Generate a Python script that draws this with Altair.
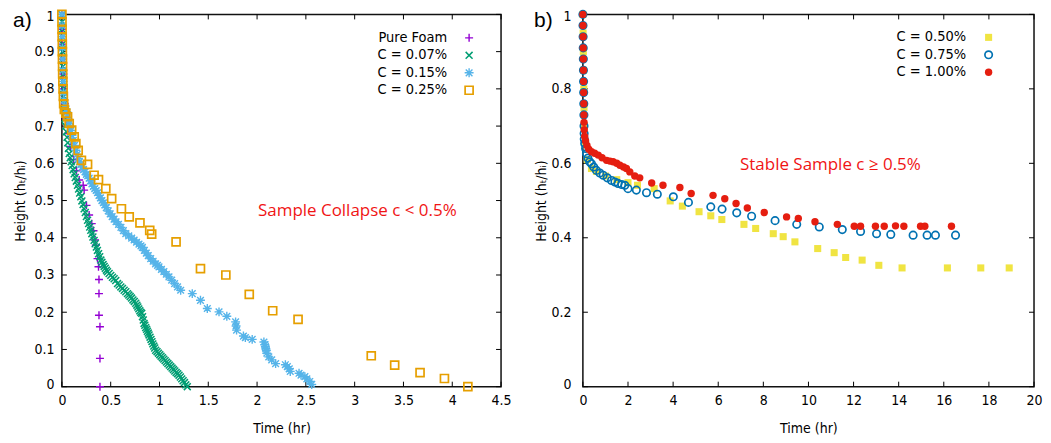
import altair as alt
import pandas as pd

# ---------------- Panel a) data: (time hr, height ratio) ----------------
pure_foam = [(0, 1), (0.003, 0.96), (0.006, 0.92), (0.01, 0.88), (0.015, 0.84), (0.02, 0.8),
             (0.03, 0.76), (0.045, 0.72), (0.065, 0.68), (0.09, 0.645), (0.12, 0.61), (0.15, 0.58),
             (0.177, 0.555), (0.218, 0.541), (0.228, 0.528), (0.252, 0.487), (0.279, 0.461),
             (0.306, 0.438), (0.324, 0.419), (0.34, 0.394), (0.348, 0.38), (0.365, 0.344),
             (0.375, 0.322), (0.38, 0.288), (0.38, 0.25), (0.38, 0.192), (0.39, 0.161),
             (0.39, 0.076), (0.39, 0.0)]

c007_t = [0, 0.002, 0.003, 0.004, 0.005, 0.006, 0.008, 0.01, 0.012, 0.014,
          0.017, 0.02, 0.024, 0.028, 0.033, 0.039, 0.046, 0.053, 0.06, 0.067,
          0.075, 0.085, 0.095, 0.105, 0.115, 0.126, 0.137, 0.148, 0.16, 0.171,
          0.182, 0.194, 0.205, 0.217, 0.228, 0.24, 0.251, 0.263, 0.274, 0.285,
          0.296, 0.307, 0.318, 0.33, 0.341, 0.353, 0.364, 0.376, 0.387, 0.399,
          0.41, 0.422, 0.433, 0.445, 0.456, 0.467, 0.484, 0.501, 0.518, 0.535,
          0.552, 0.57, 0.587, 0.604, 0.621, 0.638, 0.655, 0.672, 0.686, 0.7,
          0.714, 0.728, 0.742, 0.757, 0.768, 0.778, 0.788, 0.798, 0.808, 0.818,
          0.826, 0.834, 0.842, 0.85, 0.859, 0.868, 0.876, 0.885, 0.893, 0.903,
          0.913, 0.923, 0.932, 0.942, 0.951, 0.961, 0.975, 0.989, 1.003, 1.016,
          1.03, 1.044, 1.058, 1.072, 1.086, 1.1, 1.115, 1.129, 1.143, 1.157,
          1.171, 1.186, 1.2, 1.214, 1.228, 1.242, 1.256, 1.27, 1.285]
c007_h = [1, 0.98, 0.96, 0.94, 0.92, 0.9, 0.88, 0.86, 0.84, 0.82,
          0.8, 0.78, 0.76, 0.74, 0.72, 0.7, 0.685, 0.67, 0.655, 0.64,
          0.626, 0.615, 0.604, 0.594, 0.583, 0.572, 0.562, 0.552, 0.541, 0.531,
          0.52, 0.51, 0.499, 0.489, 0.478, 0.468, 0.457, 0.447, 0.438, 0.429,
          0.42, 0.411, 0.402, 0.393, 0.384, 0.375, 0.366, 0.357, 0.349, 0.34,
          0.334, 0.328, 0.323, 0.318, 0.313, 0.309, 0.304, 0.299, 0.294, 0.29,
          0.285, 0.277, 0.273, 0.268, 0.264, 0.259, 0.255, 0.25, 0.246, 0.242,
          0.238, 0.233, 0.229, 0.224, 0.219, 0.214, 0.209, 0.204, 0.2, 0.197,
          0.188, 0.179, 0.17, 0.165, 0.159, 0.154, 0.149, 0.144, 0.139, 0.133,
          0.127, 0.121, 0.115, 0.109, 0.104, 0.098, 0.094, 0.09, 0.086, 0.082,
          0.078, 0.074, 0.07, 0.066, 0.062, 0.058, 0.054, 0.05, 0.046, 0.042,
          0.038, 0.035, 0.031, 0.026, 0.021, 0.016, 0.011, 0.005, 0.0]

c015 = [(0, 1), (0.002, 0.97), (0.004, 0.94), (0.006, 0.91), (0.008, 0.88), (0.01, 0.85),
        (0.013, 0.82), (0.017, 0.79), (0.022, 0.77), (0.03, 0.755), (0.04, 0.745), (0.05, 0.738),
        (0.058, 0.73), (0.067, 0.718), (0.075, 0.707), (0.084, 0.697), (0.092, 0.688),
        (0.104, 0.675), (0.117, 0.662), (0.13, 0.648), (0.143, 0.635), (0.156, 0.624),
        (0.168, 0.613), (0.18, 0.604), (0.194, 0.597), (0.207, 0.59), (0.222, 0.583),
        (0.237, 0.577), (0.251, 0.57), (0.265, 0.566), (0.279, 0.56), (0.293, 0.553),
        (0.308, 0.545), (0.322, 0.538), (0.337, 0.532), (0.351, 0.527), (0.365, 0.521),
        (0.38, 0.514), (0.395, 0.507), (0.41, 0.5), (0.425, 0.494), (0.44, 0.488),
        (0.455, 0.481), (0.475, 0.472), (0.495, 0.464), (0.515, 0.457), (0.535, 0.45),
        (0.555, 0.443), (0.58, 0.436), (0.605, 0.428), (0.63, 0.419), (0.655, 0.411),
        (0.685, 0.405), (0.715, 0.399), (0.74, 0.394), (0.765, 0.388), (0.79, 0.383),
        (0.81, 0.378), (0.825, 0.374), (0.845, 0.366), (0.865, 0.359), (0.885, 0.352),
        (0.91, 0.344), (0.935, 0.337), (0.96, 0.33), (0.98, 0.326), (0.995, 0.322),
        (1.02, 0.315), (1.045, 0.309), (1.07, 0.302), (1.097, 0.295), (1.125, 0.286),
        (1.155, 0.277), (1.185, 0.268), (1.217, 0.259), (1.336, 0.25), (1.42, 0.232),
        (1.49, 0.21), (1.61, 0.201), (1.69, 0.189), (1.78, 0.174), (1.785, 0.163),
        (1.79, 0.152), (1.86, 0.136), (1.88, 0.132), (1.95, 0.127), (2.07, 0.12),
        (2.08, 0.113), (2.085, 0.108), (2.09, 0.102), (2.095, 0.097), (2.1, 0.09),
        (2.12, 0.08), (2.15, 0.072), (2.19, 0.062), (2.29, 0.059), (2.31, 0.054),
        (2.33, 0.048), (2.34, 0.041), (2.43, 0.036), (2.45, 0.031), (2.49, 0.027),
        (2.51, 0.021), (2.54, 0.014), (2.56, 0.006)]

c025 = [(0, 1), (0.001, 0.98), (0.002, 0.96), (0.003, 0.94), (0.004, 0.92), (0.005, 0.9),
        (0.006, 0.88), (0.007, 0.86), (0.008, 0.84), (0.01, 0.82), (0.012, 0.8), (0.015, 0.78),
        (0.018, 0.76), (0.025, 0.745), (0.04, 0.735), (0.058, 0.725), (0.075, 0.707),
        (0.1, 0.689), (0.126, 0.671), (0.143, 0.653), (0.167, 0.635), (0.2, 0.608),
        (0.263, 0.597), (0.33, 0.568), (0.375, 0.556), (0.45, 0.532), (0.51, 0.505),
        (0.61, 0.478), (0.69, 0.456), (0.8, 0.44), (0.9, 0.42), (0.92, 0.41), (1.17, 0.389),
        (1.42, 0.317), (1.68, 0.3), (1.92, 0.248), (2.16, 0.204), (2.42, 0.181),
        (3.17, 0.083), (3.41, 0.058), (3.67, 0.038), (3.92, 0.022), (4.16, 0.0)]

# ---------------- Panel b) data ----------------
c050 = [(0, 1), (0.01, 0.95), (0.02, 0.9), (0.03, 0.85), (0.04, 0.8), (0.05, 0.75), (0.07, 0.7),
        (0.1, 0.65), (0.2, 0.61), (0.38, 0.586), (0.6, 0.578), (1.0, 0.566), (1.5, 0.556),
        (2.0, 0.548), (2.42, 0.541), (3.16, 0.532), (3.87, 0.499), (4.41, 0.485), (5.15, 0.47),
        (5.67, 0.459), (6.16, 0.449), (7.14, 0.436), (7.66, 0.425), (8.44, 0.411), (8.88, 0.403),
        (9.4, 0.389), (10.41, 0.371), (11.14, 0.36), (11.65, 0.347), (12.38, 0.34),
        (13.12, 0.326), (14.15, 0.319), (16.16, 0.319), (17.64, 0.319), (18.9, 0.319)]

c075 = [(0, 1), (0.005, 0.97), (0.01, 0.94), (0.015, 0.91), (0.02, 0.88), (0.025, 0.85),
        (0.03, 0.82), (0.035, 0.79), (0.04, 0.76), (0.045, 0.73), (0.05, 0.7), (0.055, 0.68),
        (0.06, 0.665), (0.08, 0.653), (0.12, 0.64), (0.16, 0.626), (0.22, 0.614), (0.3, 0.604),
        (0.38, 0.599), (0.48, 0.59), (0.6, 0.581), (0.75, 0.574), (0.9, 0.568), (1.08, 0.561),
        (1.27, 0.554), (1.42, 0.55), (1.56, 0.546), (1.72, 0.543), (1.86, 0.541), (2.0, 0.532),
        (2.37, 0.528), (2.82, 0.521), (3.3, 0.517), (4.01, 0.51), (4.68, 0.495), (5.67, 0.483),
        (6.17, 0.477), (6.82, 0.467), (7.48, 0.458), (8.52, 0.446), (9.48, 0.436),
        (10.48, 0.429), (11.5, 0.422), (12.31, 0.417), (13.02, 0.411), (13.65, 0.409),
        (14.64, 0.407), (15.26, 0.407), (15.63, 0.407), (16.52, 0.407)]

c100 = [(0, 1), (0.005, 0.97), (0.01, 0.94), (0.015, 0.91), (0.02, 0.88), (0.025, 0.85),
        (0.03, 0.82), (0.035, 0.79), (0.04, 0.76), (0.045, 0.73), (0.05, 0.71), (0.06, 0.69),
        (0.08, 0.672), (0.12, 0.66), (0.18, 0.648), (0.26, 0.638), (0.38, 0.631), (0.52, 0.627),
        (0.68, 0.622), (0.85, 0.615), (1.05, 0.608), (1.2, 0.606), (1.34, 0.604), (1.5, 0.6),
        (1.64, 0.595), (1.8, 0.59), (1.93, 0.586), (2.08, 0.577), (2.3, 0.566), (2.52, 0.561),
        (3.05, 0.547), (3.55, 0.541), (4.3, 0.535), (4.8, 0.519), (5.77, 0.514), (6.29, 0.505),
        (6.79, 0.492), (7.29, 0.48), (8.04, 0.468), (9.03, 0.456), (9.55, 0.452),
        (10.29, 0.443), (11.28, 0.436), (12.03, 0.431), (12.31, 0.431), (12.97, 0.431),
        (13.36, 0.431), (13.86, 0.432), (14.23, 0.431), (14.97, 0.431), (15.16, 0.431),
        (16.34, 0.431)]

# ---------------- ticks / labels ----------------
a_xticks = [0, 0.5, 1, 1.5, 2, 2.5, 3, 3.5, 4, 4.5]
a_yticks = [0, 0.1, 0.2, 0.3, 0.4, 0.5, 0.6, 0.7, 0.8, 0.9, 1]
b_xticks = [0, 2, 4, 6, 8, 10, 12, 14, 16, 18, 20]
b_yticks = [0, 0.2, 0.4, 0.6, 0.8, 1]
a_legend = ["Pure Foam", "C = 0.07%", "C = 0.15%", "C = 0.25%"]
b_legend = ["C = 0.50%", "C = 0.75%", "C = 1.00%"]
panel_labels = ["a)", "b)"]
notes = ["Sample Collapse c < 0.5%", "Stable Sample c \u2265 0.5%"]
x_title = "Time (hr)"
y_title = "Height (h\u209c/h\u1d62)"

FONT = "DejaVu Sans Condensed"
W_A, W_B, H = 440, 452, 373
PLUS = "M-1,0L1,0M0,-1L0,1"
CROSS = "M-1,-1L1,1M-1,1L1,-1"
STAR = "M-1,0L1,0M0,-1L0,1M-0.75,-0.75L0.75,0.75M-0.75,0.75L0.75,-0.75"

STYLES_A = [
    dict(shape=PLUS, filled=False, color="#9400d3", size=64, strokeWidth=1.4),
    dict(shape=CROSS, filled=False, color="#009e73", size=48, strokeWidth=1.5),
    dict(shape=STAR, filled=False, color="#56b4e9", size=80, strokeWidth=1.4),
    dict(shape="square", filled=False, color="#e69f00", size=64, strokeWidth=1.7),
]
STYLES_B = [
    dict(shape="square", filled=True, color="#f0e442", size=50),
    dict(shape="circle", filled=False, color="#0072b2", size=55, strokeWidth=1.7),
    dict(shape="circle", filled=True, color="#e51e10", size=55),
]


def make_axes(xticks, yticks, W, ylabel_pad):
    xaxis = alt.Axis(title=x_title, values=xticks, format="~g", labelPadding=7,
                     labelFlush=False, titleX=W / 2, titleY=42, titleBaseline="middle")
    yaxis = alt.Axis(title=y_title, values=yticks, format="~g", labelPadding=ylabel_pad,
                     titleX=-41, titleY=H / 2, titleBaseline="middle", titleAngle=-90,
                     labelFlush=True, labelFlushOffset=4.5)
    return xaxis, yaxis


def panel(series, styles, legend, xticks, yticks, xmax, W, ylabel_pad, plabel, note, note_xy,
          leg_text_x, leg_sym_x, leg_rows):
    xaxis, yaxis = make_axes(xticks, yticks, W, ylabel_pad)
    xs = alt.Scale(domain=[0, xmax], nice=False, zero=False)
    ys = alt.Scale(domain=[0, 1], nice=False, zero=False)
    X = alt.X("t:Q", scale=xs, axis=xaxis)
    Y = alt.Y("h:Q", scale=ys, axis=yaxis)
    layers = []
    # frame ticks (inward, mirrored)
    dfx = pd.DataFrame({"t": xticks})
    dfy = pd.DataFrame({"h": yticks})
    layers.append(alt.Chart(dfx).mark_rule(color="black", strokeWidth=1).encode(
        x=X, y=alt.value(H), y2=alt.value(H - 5)))
    layers.append(alt.Chart(dfx).mark_rule(color="black", strokeWidth=1).encode(
        x=X, y=alt.value(0), y2=alt.value(5)))
    layers.append(alt.Chart(dfy).mark_rule(color="black", strokeWidth=1).encode(
        y=Y, x=alt.value(0), x2=alt.value(5)))
    layers.append(alt.Chart(dfy).mark_rule(color="black", strokeWidth=1).encode(
        y=Y, x=alt.value(W), x2=alt.value(W - 5)))
    # data
    for df, st in zip(series, styles):
        layers.append(alt.Chart(df).mark_point(opacity=1, **st).encode(x=X, y=Y))
    # legend
    for lab, st, yy in zip(legend, styles, leg_rows):
        d = pd.DataFrame({"label": [lab]})
        layers.append(alt.Chart(d).mark_text(align="right", baseline="middle", font=FONT,
                                             fontSize=14.5, color="black").encode(
            text="label:N", x=alt.value(leg_text_x), y=alt.value(yy)))
        layers.append(alt.Chart(d).mark_point(opacity=1, **st).encode(
            x=alt.value(leg_sym_x), y=alt.value(yy)))
    # annotation
    d = pd.DataFrame({"label": [note]})
    layers.append(alt.Chart(d).mark_text(align="center", baseline="middle", font="Open Sans",
                                         fontSize=17, color="#f01414").encode(
        text="label:N", x=alt.value(note_xy[0]), y=alt.value(note_xy[1])))
    # panel label
    d = pd.DataFrame({"label": [plabel]})
    layers.append(alt.Chart(d).mark_text(align="left", baseline="top", font="Liberation Sans",
                                         fontSize=21, color="black").encode(
        text="label:N", x=alt.value(-49), y=alt.value(-4.5)))
    return alt.layer(*layers).properties(width=W, height=H)


series_a = [pd.DataFrame(pure_foam, columns=["t", "h"]),
            pd.DataFrame({"t": c007_t, "h": c007_h}),
            pd.DataFrame(c015, columns=["t", "h"]),
            pd.DataFrame(c025, columns=["t", "h"])]
series_b = [pd.DataFrame(c050, columns=["t", "h"]),
            pd.DataFrame(c075, columns=["t", "h"]),
            pd.DataFrame(c100, columns=["t", "h"])]

pa = panel(series_a, STYLES_A, a_legend, a_xticks, a_yticks, 4.5, W_A, 8, panel_labels[0],
           notes[0], (296, 197), 386, 408, [23.5, 41, 58.5, 76])
pb = panel(series_b, STYLES_B, b_legend, b_xticks, b_yticks, 20, W_B, 12, panel_labels[1],
           notes[1], (248, 151), 384, 406.5, [23, 40.5, 58])

chart = alt.hconcat(pa, pb, spacing=21).properties(
    padding={"left": 4, "top": -3, "right": 0, "bottom": 0}
).configure_view(stroke="#111", strokeWidth=1.5).configure_axis(
    labelFont=FONT, labelFontSize=14, labelColor="black", titleFont=FONT, titleFontSize=14,
    titleFontWeight="normal", titleColor="black", grid=False, ticks=False, tickSize=0,
    domain=False
)

chart.save("out.html", embed_options={"renderer": "svg", "actions": False})
